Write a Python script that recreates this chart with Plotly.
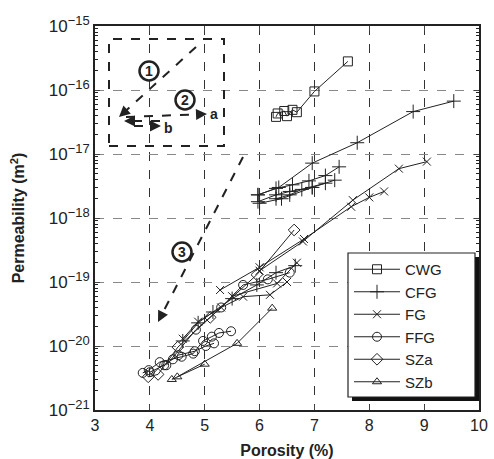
import plotly.graph_objects as go
import math

# ---------------- data ----------------
cwg_x = [[6.30, 6.33, 6.45, 6.50, 6.60, 6.68, 7.00, 7.61]]
cwg_y = [[3.8e-17, 4.3e-17, 4.7e-17, 3.9e-17, 4.9e-17, 4.5e-17, 9.5e-17, 2.8e-16]]

cfg_x = [[5.97, 6.35, 6.96, 7.78, 8.80, 9.54],
         [5.97, 6.30, 6.60, 6.90, 7.20, 7.45],
         [5.97, 6.30, 6.55, 6.96, 7.37],
         [6.30, 6.55, 6.77, 7.20],
         [6.00, 6.40, 6.96],
         [4.60, 4.88, 5.15, 5.50, 5.95, 6.30, 6.65]]
cfg_y = [[2.3e-18, 3.0e-18, 7.2e-18, 1.5e-17, 4.6e-17, 6.7e-17],
         [2.3e-18, 2.9e-18, 3.3e-18, 3.8e-18, 4.6e-18, 6.3e-18],
         [1.8e-18, 2.3e-18, 2.6e-18, 3.0e-18, 3.9e-18],
         [2.0e-18, 2.3e-18, 2.8e-18, 3.5e-18],
         [1.7e-18, 2.0e-18, 3.0e-18],
         [1.2e-20, 2.3e-20, 3.4e-20, 5.5e-20, 9.0e-20, 1.4e-19, 1.8e-19]]

fg_x = [[4.60, 4.88, 5.30, 5.70, 6.19, 6.50],
        [5.28, 6.00, 6.81, 7.67, 8.00, 8.27],
        [5.50, 6.32, 6.68],
        [6.00, 6.79, 7.70, 8.54, 9.05]]
fg_y = [[1.3e-20, 2.4e-20, 4.0e-20, 5.9e-20, 6.3e-20, 1.0e-19],
        [7.5e-20, 1.7e-19, 4.7e-19, 1.5e-18, 2.1e-18, 2.6e-18],
        [6.0e-20, 9.5e-20, 2.0e-19],
        [1.5e-19, 4.3e-19, 1.9e-18, 5.9e-18, 7.6e-18]]

ffg_x = [[3.87, 3.98, 4.18, 4.42, 4.58, 4.79, 4.97, 5.13, 5.26, 5.48],
         [4.00, 4.26, 4.52, 4.82, 5.02, 5.17],
         [4.30, 4.84, 5.30, 5.70, 6.15, 6.55]]
ffg_y = [[3.8e-21, 4.2e-21, 5.6e-21, 6.2e-21, 6.8e-21, 7.6e-21, 1.2e-20, 1.4e-20, 1.6e-20, 1.7e-20],
         [3.9e-21, 5.0e-21, 7.2e-21, 8.3e-21, 1.0e-20, 1.1e-20],
         [5.0e-21, 1.8e-20, 4.0e-20, 9.0e-20, 1.1e-19, 1.4e-19]]

sza_x = [[3.97, 4.15, 4.51, 5.10, 5.95, 6.63]]
sza_y = [[3.3e-21, 3.6e-21, 9.6e-21, 2.8e-20, 1.3e-19, 6.5e-19]]

szb_x = [[4.40, 5.00],
         [4.50, 5.59, 6.23]]
szb_y = [[3.0e-21, 5.2e-21],
         [3.3e-21, 1.1e-20, 3.9e-20]]

series_names = ["CWG", "CFG", "FG", "FFG", "SZa", "SZb"]
series_x = [cwg_x, cfg_x, fg_x, ffg_x, sza_x, szb_x]
series_y = [cwg_y, cfg_y, fg_y, ffg_y, sza_y, szb_y]
symbols = ["square-open", "cross-thin-open", "x-thin-open", "circle-open", "diamond-open", "triangle-up-open"]
sizes = [9, 10, 8, 9, 9, 8]

y_exponents = [-21, -20, -19, -18, -17, -16, -15]
y_tickvals = [10.0 ** e for e in y_exponents]
y_ticktext = ["10<sup><span style='font-size:13px'>\u2212%d</span></sup>" % (-e) for e in y_exponents]
y_minor = [m * 10.0 ** e for e in range(-21, -15) for m in range(2, 10)]

FONT = "Liberation Sans, Arial, Helvetica, sans-serif"

fig = go.Figure()
for name, xs, ys, sym, sz in zip(series_names, series_x, series_y, symbols, sizes):
    for i, (x, y) in enumerate(zip(xs, ys)):
        fig.add_trace(go.Scatter(
            x=x, y=y, mode="lines+markers", name=name, legendgroup=name,
            showlegend=(i == 0),
            line=dict(color="#222", width=1),
            marker=dict(symbol=sym, size=sz, color="#222", line=dict(width=1, color="#222")),
        ))

# plot area in pixels
L, R, T, B = 95, 479, 26, 410
W, H = R - L, B - T

def px(x):
    return (x - L) / W

def py(y):
    return (B - y) / H

shapes = []
annotations = []

# inset dashed box
shapes.append(dict(type="rect", xref="paper", yref="paper",
                   x0=px(109), x1=px(224), y0=py(146), y1=py(39),
                   line=dict(color="#222", width=2, dash="dash")))

def arrow(tx, ty, hx, hy, width=2):
    dx, dy = tx - hx, ty - hy
    d = math.hypot(dx, dy)
    ux, uy = dx / d, dy / d
    shapes.append(dict(type="line", xref="paper", yref="paper",
                       x0=px(tx), y0=py(ty), x1=px(hx + ux * 6), y1=py(hy + uy * 6),
                       line=dict(color="#222", width=width, dash="dash")))
    annotations.append(dict(x=px(hx), y=py(hy), xref="paper", yref="paper",
                            ax=ux * 12, ay=uy * 12, axref="pixel", ayref="pixel",
                            text="", showarrow=True, arrowhead=2, arrowsize=1.1,
                            arrowwidth=2, arrowcolor="#222", standoff=0))

arrow(196, 47, 119, 117)
arrow(126, 117, 207, 114)
arrow(160, 121, 124, 121)
arrow(134, 126, 161, 126)
arrow(243, 157, 158, 322)

def circled(cx, cy, label):
    r = 9.5
    shapes.append(dict(type="circle", xref="paper", yref="paper",
                       x0=px(cx - r), x1=px(cx + r), y0=py(cy + r), y1=py(cy - r),
                       line=dict(color="#222", width=2.5), fillcolor="white"))
    annotations.append(dict(x=px(cx), y=py(cy), xref="paper", yref="paper",
                            text="<b>%s</b>" % label, showarrow=False,
                            font=dict(family=FONT, size=14, color="#222"),
                            xanchor="center", yanchor="middle"))

circled(149, 71, "1")
circled(185, 100, "2")
circled(182, 252, "3")

annotations.append(dict(x=px(214), y=py(114), xref="paper", yref="paper", text="<b>a</b>",
                        showarrow=False, font=dict(family=FONT, size=14, color="#222"),
                        xanchor="center", yanchor="middle"))
annotations.append(dict(x=px(168), y=py(128), xref="paper", yref="paper", text="<b>b</b>",
                        showarrow=False, font=dict(family=FONT, size=14, color="#222"),
                        xanchor="center", yanchor="middle"))

# legend box: shadow + white framed box (legend itself is drawn transparent on top)
shapes.append(dict(type="rect", xref="paper", yref="paper",
                   x0=px(352), x1=px(479), y0=py(401), y1=py(257),
                   line=dict(width=0), fillcolor="#111", layer="above"))
shapes.append(dict(type="rect", xref="paper", yref="paper",
                   x0=px(348), x1=px(475), y0=py(397), y1=py(253),
                   line=dict(width=1.2, color="#222"), fillcolor="white", layer="above"))

fig.update_layout(
    width=494, height=459,
    margin=dict(l=L, r=494 - R, t=T, b=459 - B, autoexpand=False),
    paper_bgcolor="white", plot_bgcolor="white",
    font=dict(family=FONT, size=16, color="#222"),
    shapes=shapes, annotations=annotations,
    showlegend=True,
    legend=dict(x=px(349), y=py(253), xanchor="left", yanchor="top",
                bgcolor="rgba(0,0,0,0)", borderwidth=0,
                font=dict(family=FONT, size=15, color="#222"),
                itemwidth=46, tracegroupgap=0),
    xaxis=dict(range=[3, 10], dtick=1, tick0=3, ticks="inside", ticklen=5,
               showline=True, linecolor="#222", linewidth=1.5, mirror="ticks",
               showgrid=True, gridcolor="#333", griddash="dash", gridwidth=1,
               zeroline=False, tickfont=dict(size=16), automargin=False,
               title=dict(text="<b>Porosity (%)</b>", font=dict(size=16), standoff=14)),
    yaxis=dict(type="log", range=[-21, -15], tickvals=y_tickvals, ticktext=y_ticktext,
               ticks="inside", ticklen=5, automargin=False,
               minor=dict(ticks="inside", ticklen=3, tickcolor="#222", showgrid=False,
                          tickvals=y_minor),
               showline=True, linecolor="#222", linewidth=1.5, mirror="ticks",
               showgrid=True, gridcolor="#888", griddash="dash", gridwidth=1,
               zeroline=False, tickfont=dict(size=17),
               title=dict(text="<b>Permeability (m<sup>2</sup>)</b>", font=dict(size=16), standoff=20)),
)

fig.write_html("out.html")
